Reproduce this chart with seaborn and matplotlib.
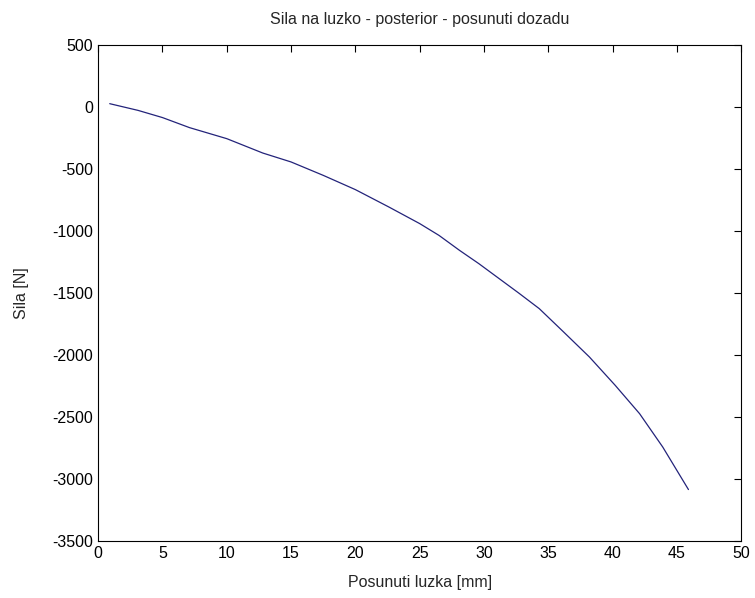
import matplotlib
matplotlib.use("Agg")
import matplotlib.pyplot as plt
import seaborn as sns
import pandas as pd

# posunuti luzka [mm] a sila [N]
posunuti = [0.9, 3.1, 5.0, 7.1, 10.0, 12.8, 15.0, 17.5, 20.0, 22.6, 25.0,
            26.5, 28.1, 29.6, 32.7, 34.3, 36.2, 38.2, 40.2, 42.1, 43.9, 45.9]
sila = [27, -27, -85, -166, -255, -371, -443, -551, -666, -806, -940,
        -1035, -1156, -1263, -1500, -1626, -1815, -2016, -2244, -2473, -2742, -3085]

df = pd.DataFrame({"Posunuti luzka [mm]": posunuti, "Sila [N]": sila})

sns.set_style("white")
plt.rcParams["font.family"] = ["Liberation Sans", "DejaVu Sans"]
plt.rcParams["axes.unicode_minus"] = False

fig = plt.figure(figsize=(7.55, 5.98), dpi=100)
ax = fig.add_axes([0.130, 0.0953, 0.8517, 0.8294])

sns.lineplot(data=df, x="Posunuti luzka [mm]", y="Sila [N]", ax=ax,
             color="#23237a", linewidth=0.9)

ax.set_xlim(0, 50)
ax.set_ylim(-3500, 500)
ax.set_xticks(range(0, 51, 5))
ax.set_yticks(range(-3500, 501, 500))

for s in ax.spines.values():
    s.set_color("black")
    s.set_linewidth(0.8)
ax.tick_params(direction="in", top=True, right=True, length=5, width=0.8,
               labelsize=11.5, colors="black")

ax.set_title("Sila na luzko - posterior - posunuti dozadu", fontsize=11.5, pad=15)
ax.set_xlabel("Posunuti luzka [mm]", fontsize=11.5, labelpad=10)
ax.set_ylabel("Sila [N]", fontsize=11.5, labelpad=17)

fig.savefig("out.png", dpi=100)
